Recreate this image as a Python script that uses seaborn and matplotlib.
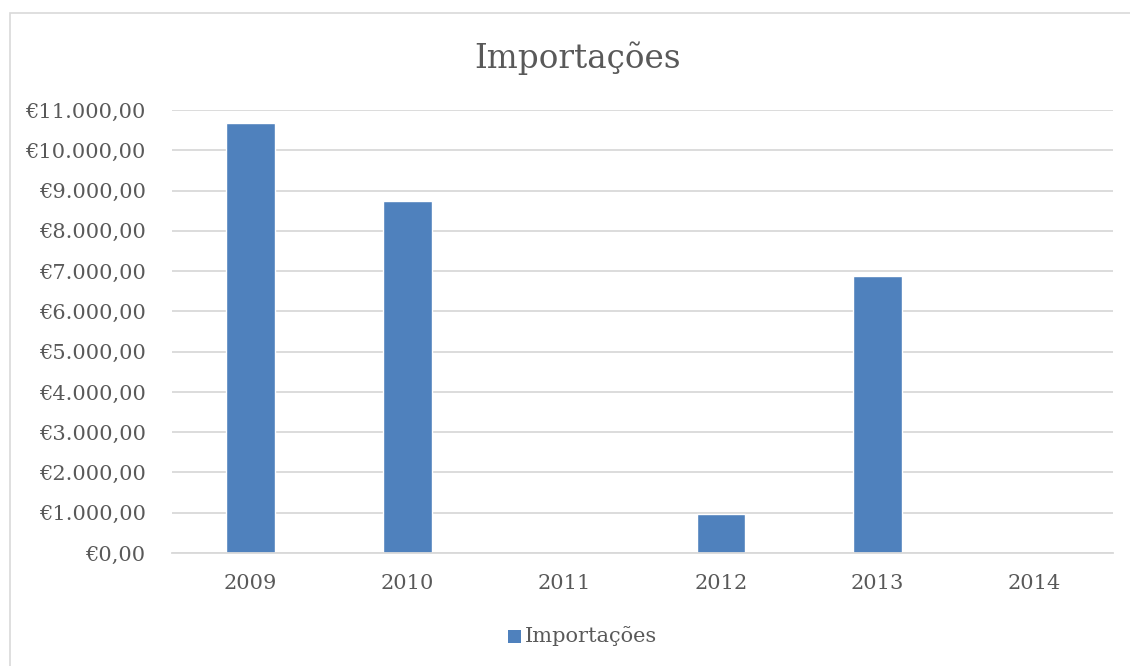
import matplotlib
matplotlib.use("Agg")
import matplotlib.pyplot as plt
import seaborn as sns
import pandas as pd
from matplotlib.ticker import FuncFormatter, MultipleLocator
from matplotlib.patches import Rectangle

years = ["2009", "2010", "2011", "2012", "2013", "2014"]
values = [10670, 8740, 0, 980, 6870, 0]
series_name = "Importações"
title = "Importações"

df = pd.DataFrame({"Ano": years, "Valor": values, "Serie": series_name})

sns.set_theme(style="white")
plt.rcParams["font.family"] = ["DejaVu Serif"]

W, H = 1130, 666
fig = plt.figure(figsize=(W / 100, H / 100), dpi=100)
ax = fig.add_axes([172 / W, 1 - 553 / H, (1113 - 172) / W, (553 - 110) / H])

sns.barplot(data=df, x="Ano", y="Valor", hue="Serie", palette=["#4f81bd"],
            width=0.31, ax=ax, legend=False, saturation=1)

ax.set_ylim(0, 11000)
ax.yaxis.set_major_locator(MultipleLocator(1000))

def fmt(v, pos):
    s = f"{v:,.2f}"
    s = s.replace(",", "X").replace(".", ",").replace("X", ".")
    return "€" + s

ax.yaxis.set_major_formatter(FuncFormatter(fmt))
ax.grid(axis="y", color="#d9d9d9", linewidth=1.3)
ax.set_axisbelow(True)
for s in ["top", "right", "left"]:
    ax.spines[s].set_visible(False)
ax.spines["bottom"].set_color("#d9d9d9")
ax.spines["bottom"].set_linewidth(1.3)
ax.set_xlabel("")
ax.set_ylabel("")
ax.tick_params(axis="both", length=0, labelsize=15, colors="#595959")
ax.tick_params(axis="y", pad=19)
ax.tick_params(axis="x", pad=15)

fig.text(577 / W, 1 - 58 / H, title, ha="center", va="center",
         fontsize=23.5, color="#595959")

# legend
fig.patches.append(Rectangle((508 / W, 1 - 643 / H), 13 / W, 13 / H,
                             transform=fig.transFigure, facecolor="#4f81bd",
                             edgecolor="none"))
fig.text(525 / W, 1 - 636 / H, series_name, ha="left", va="center",
         fontsize=15, color="#595959")

# chart border
fig.patches.append(Rectangle((10 / W, -0.05), 1.2, 1 - 13 / H + 0.05,
                             transform=fig.transFigure, facecolor="none",
                             edgecolor="#d9d9d9", linewidth=1.2))

fig.savefig("out.png", dpi=100)
